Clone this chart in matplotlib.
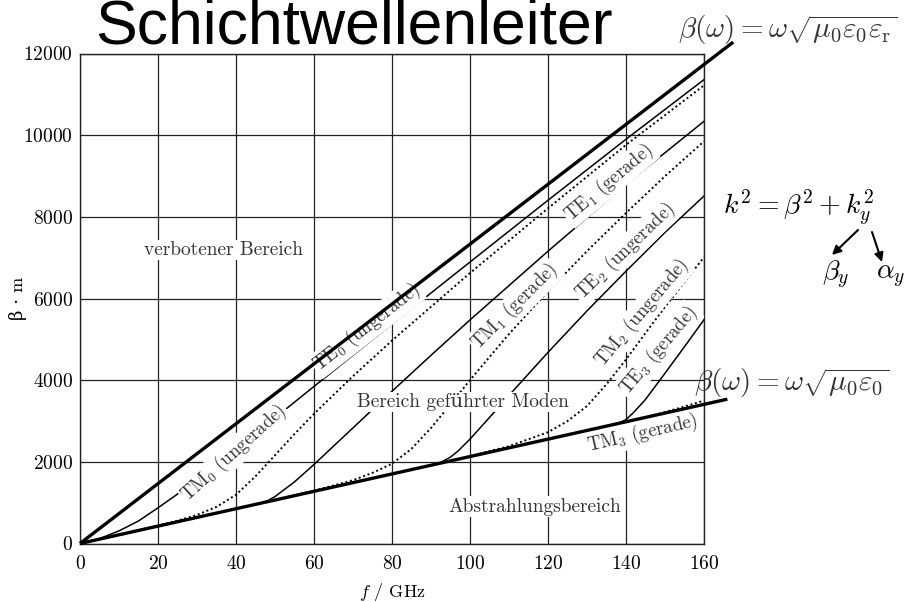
import matplotlib.pyplot as plt

plt.rcParams['font.family'] = ['cmr10', 'DejaVu Serif']
plt.rcParams['mathtext.fontset'] = 'cm'
plt.rcParams['axes.formatter.use_mathtext'] = True
plt.rcParams['axes.unicode_minus'] = False

# achsen
f_ticks = [0, 20, 40, 60, 80, 100, 120, 140, 160]
beta_ticks = [0, 2000, 4000, 6000, 8000, 10000, 12000]

# lichtlinien (kern / mantel), gehen ueber den rand hinaus
core_f = [0, 167.5]
core_beta = [0, 12280]
clad_f = [0, 166]
clad_beta = [0, 3535]

# moden
te0_f = [0, 5, 10, 15, 20, 25, 30, 40, 50, 60, 70, 80, 100, 120, 140, 160]
te0_beta = [0, 120, 309, 551, 874, 1210, 1571, 2316, 3076, 3846, 4612, 5376, 6893, 8406, 9900, 11360]

tm0_f = [0, 10, 20, 25, 30, 35, 40, 45, 50, 55, 60, 70, 80, 100, 120, 140, 160]
tm0_beta = [0, 214, 437, 559, 700, 897, 1193, 1646, 2162, 2682, 3175, 4099, 4970, 6624, 8209, 9761, 11220]

te1_f = [46, 48, 50, 55, 60, 70, 80, 90, 100, 120, 140, 160]
te1_beta = [980, 1043, 1149, 1509, 1935, 2832, 3728, 4609, 5475, 7158, 8799, 10340]

tm1_f = [46, 60, 70, 75, 80, 85, 90, 95, 100, 110, 120, 130, 140, 150, 160]
tm1_beta = [980, 1292, 1550, 1730, 1954, 2318, 2830, 3406, 4002, 5131, 6179, 7160, 8094, 8996, 9850]

te2_f = [92, 95, 97, 100, 105, 110, 120, 130, 140, 150, 160]
te2_beta = [1960, 2116, 2271, 2556, 3087, 3626, 4681, 5696, 6669, 7618, 8510]

tm2_f = [92, 100, 110, 120, 125, 130, 135, 140, 145, 150, 155, 160]
tm2_beta = [1960, 2138, 2383, 2726, 2998, 3366, 3900, 4507, 5155, 5792, 6405, 7010]

te3_f = [138, 140, 142, 145, 150, 155, 160]
te3_beta = [2939, 3035, 3214, 3528, 4170, 4820, 5480]

tm3_f = [138, 145, 150, 155, 160]
tm3_beta = [2939, 3088, 3219, 3355, 3500]

mode_names = [r'TE$_0$ (ungerade)', r'TM$_0$ (ungerade)', r'TE$_1$ (gerade)', r'TM$_1$ (gerade)',
              r'TE$_2$ (ungerade)', r'TM$_2$ (ungerade)', r'TE$_3$ (gerade)', r'TM$_3$ (gerade)']
label_f = [73.5, 39.5, 135.7, 111.5, 139.7, 144.0, 148.3, 144.2]
label_beta = [5278, 2216, 8840, 5800, 7147, 5638, 4720, 2699]
label_rot = [38, 42, 40, 45, 44, 50, 50, 13]

region_names = ['verbotener Bereich', 'Bereich geführter Moden', 'Abstrahlungsbereich']
region_f = [36.9, 98.2, 116.7]
region_beta = [7188, 3466, 901]

W, H = 909, 602


def fig_xy(x, y):
    return x / W, 1 - y / H


fig = plt.figure(figsize=(W / 100, H / 100), dpi=100)
ax = fig.add_axes([80 / W, (H - 543.5) / H, 624 / W, 490 / H])

ax.set_xlim(0, 160)
ax.set_ylim(0, 12000)
ax.set_xticks(f_ticks)
ax.set_yticks(beta_ticks)
ax.tick_params(length=0, labelsize=14)
ax.tick_params(axis='x', pad=8)
ax.tick_params(axis='y', pad=5)
ax.grid(True, color='#222222', lw=0.9, zorder=0.5)
ax.set_axisbelow(True)
for s in ax.spines.values():
    s.set_color('#222222')
    s.set_linewidth(1.0)

ax.set_xlabel(r'$f$ / GHz', fontsize=13, labelpad=6)
ax.set_ylabel('β · m', fontsize=13, labelpad=-3)

ax.plot(core_f, core_beta, color='black', lw=2.4, clip_on=False, zorder=4, solid_capstyle='butt')
ax.plot(clad_f, clad_beta, color='black', lw=2.4, clip_on=False, zorder=4, solid_capstyle='butt')

solid = dict(color='black', lw=1.1, zorder=2)
dotted = dict(color='black', lw=1.4, ls=(0, (1, 1.4)), zorder=2)
ax.plot(te0_f, te0_beta, **solid)
ax.plot(tm0_f, tm0_beta, **dotted)
ax.plot(te1_f, te1_beta, **solid)
ax.plot(tm1_f, tm1_beta, **dotted)
ax.plot(te2_f, te2_beta, **solid)
ax.plot(tm2_f, tm2_beta, **dotted)
ax.plot(te3_f, te3_beta, **solid)
ax.plot(tm3_f, tm3_beta, **dotted)

box = dict(facecolor='white', edgecolor='none', pad=1.0)
for name, x, y, r in zip(mode_names, label_f, label_beta, label_rot):
    ax.text(x, y, name, rotation=r, rotation_mode='anchor', ha='center', va='center',
            fontsize=13.5, color='#333333', bbox=box, zorder=3)
for name, x, y in zip(region_names, region_f, region_beta):
    ax.text(x, y, name, ha='center', va='center', fontsize=14, color='#333333', bbox=box, zorder=3)

# titel und formeln rechts
fig.text(*fig_xy(95, 44), 'Schichtwellenleiter', fontsize=45, family='Liberation Sans',
         ha='left', va='baseline')
fig.text(*fig_xy(788, 30), r'$\beta(\omega) = \omega\sqrt{\mu_0\varepsilon_0\varepsilon_{\rm r}}$',
         fontsize=21, ha='center', va='center', color='#333333')
fig.text(*fig_xy(792, 383), r'$\beta(\omega) = \omega\sqrt{\mu_0\varepsilon_0}$',
         fontsize=21, ha='center', va='center', color='#333333')
fig.text(*fig_xy(723, 215), r'$k^2 = \beta^2 + k_y^2$', fontsize=20, ha='left', va='baseline')
fig.text(*fig_xy(836, 275), r'$\beta_y$', fontsize=20, ha='center', va='center')
fig.text(*fig_xy(891, 277), r'$\alpha_y$', fontsize=20, ha='center', va='center')

arrow = dict(arrowstyle='-|>', lw=1.5, color='black', mutation_scale=13, shrinkA=0, shrinkB=0)
fig.add_artist(plt.matplotlib.patches.FancyArrowPatch(fig_xy(858, 230), fig_xy(832, 255),
                                                      transform=fig.transFigure, **arrow))
fig.add_artist(plt.matplotlib.patches.FancyArrowPatch(fig_xy(872, 232), fig_xy(882, 262),
                                                      transform=fig.transFigure, **arrow))

fig.savefig('out.png', dpi=100)
